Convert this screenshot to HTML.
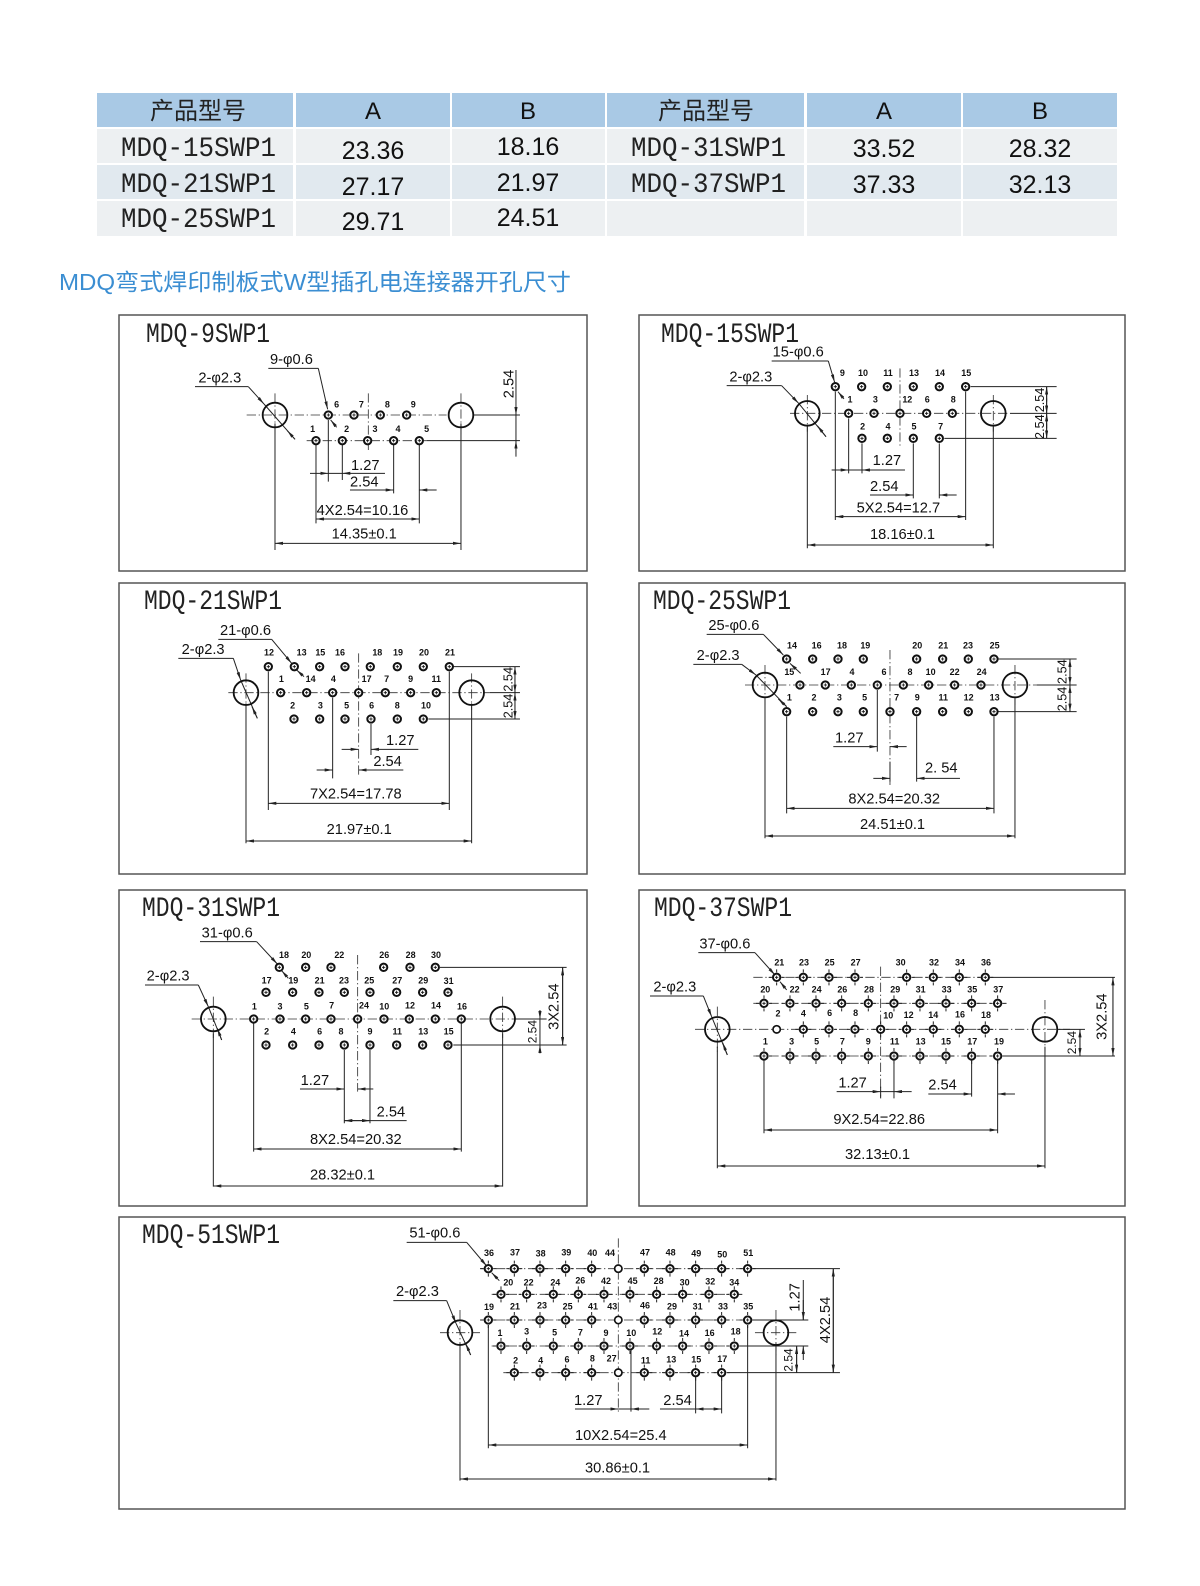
<!DOCTYPE html>
<html><head><meta charset="utf-8"><style>
html,body{margin:0;padding:0;background:#fff}
svg{display:block}
.s{stroke:#222;stroke-width:3;fill:none}
.dd{stroke:#333;stroke-width:2.5;stroke-dasharray:28 8 4 8;fill:none}
.h{fill:none;stroke:#111;stroke-width:5.5}
.t{font-family:"Liberation Sans",sans-serif;font-size:44px;fill:#111}
.n{font-family:"Liberation Sans",sans-serif;font-weight:bold;font-size:27px;fill:#111;text-anchor:middle}
.m{font-family:"Liberation Mono",monospace;font-size:28px;fill:#222}
.v{font-family:"Liberation Sans",sans-serif;font-size:24px;fill:#111;text-anchor:middle}
.cj{font-family:"Liberation Sans","Noto Sans CJK SC",sans-serif;font-size:24px;fill:#222;text-anchor:middle}
</style></head><body>
<svg width="1200" height="1586" viewBox="0 0 1200 1586" xmlns="http://www.w3.org/2000/svg">
<defs>
<marker id="a" viewBox="0 0 10 4" refX="10" refY="2" markerWidth="8" markerHeight="3.2" orient="auto-start-reverse" markerUnits="strokeWidth"><path d="M0 0L10 2L0 4z" fill="#222"/></marker>
<g id="p"><circle r="11" fill="#fff" stroke="#111" stroke-width="6"/><path d="M-5 0h10M0-5v10" stroke="#111" stroke-width="2.5"/></g>
<g id="q"><path d="M-24 0h9M15 0h9M0-24v9M0 15v9" stroke="#222" stroke-width="3"/><circle r="11" fill="#fff" stroke="#111" stroke-width="6"/><path d="M-5 0h10M0-5v10" stroke="#111" stroke-width="2.5"/></g>
<g id="o"><circle r="11" fill="#fff" stroke="#111" stroke-width="5"/></g>
</defs>

<!-- TABLE -->
<rect x="97" y="93" width="1020" height="143" fill="#fff"/>
<g fill="#a9c9e5"><rect x="97" y="93" width="196" height="34"/><rect x="296" y="93" width="154" height="34"/><rect x="452" y="93" width="153" height="34"/><rect x="607" y="93" width="197" height="34"/><rect x="807" y="93" width="154" height="34"/><rect x="963" y="93" width="154" height="34"/></g>
<g fill="#edf0f2"><rect x="97" y="129" width="196" height="34"/><rect x="296" y="129" width="154" height="34"/><rect x="452" y="129" width="153" height="34"/><rect x="607" y="129" width="197" height="34"/><rect x="807" y="129" width="154" height="34"/><rect x="963" y="129" width="154" height="34"/></g>
<g fill="#e1e9ef"><rect x="97" y="165" width="196" height="34"/><rect x="296" y="165" width="154" height="34"/><rect x="452" y="165" width="153" height="34"/><rect x="607" y="165" width="197" height="34"/><rect x="807" y="165" width="154" height="34"/><rect x="963" y="165" width="154" height="34"/></g>
<g fill="#edf0f2"><rect x="97" y="201" width="196" height="35"/><rect x="296" y="201" width="154" height="35"/><rect x="452" y="201" width="153" height="35"/><rect x="607" y="201" width="197" height="35"/><rect x="807" y="201" width="154" height="35"/><rect x="963" y="201" width="154" height="35"/></g>
<text class="cj" x="198" y="119">产品型号</text><text class="v" x="373" y="119">A</text><text class="v" x="528" y="119">B</text>
<text class="cj" x="706" y="119">产品型号</text><text class="v" x="884" y="119">A</text><text class="v" x="1040" y="119">B</text>
<text class="m" x="121" y="156" textLength="155" lengthAdjust="spacingAndGlyphs">MDQ-15SWP1</text>
<text class="m" x="121" y="192" textLength="155" lengthAdjust="spacingAndGlyphs">MDQ-21SWP1</text>
<text class="m" x="121" y="227" textLength="155" lengthAdjust="spacingAndGlyphs">MDQ-25SWP1</text>
<text class="m" x="631" y="156" textLength="155" lengthAdjust="spacingAndGlyphs">MDQ-31SWP1</text>
<text class="m" x="631" y="192" textLength="155" lengthAdjust="spacingAndGlyphs">MDQ-37SWP1</text>
<g class="v" style="font-size:25px"><text x="373" y="159">23.36</text><text x="528" y="155">18.16</text><text x="373" y="195">27.17</text><text x="528" y="191">21.97</text><text x="373" y="230">29.71</text><text x="528" y="226">24.51</text>
<text x="884" y="157">33.52</text><text x="1040" y="157">28.32</text><text x="884" y="193">37.33</text><text x="1040" y="193">32.13</text></g>

<text x="59" y="290" style="font-family:'Liberation Sans','Noto Sans CJK SC',sans-serif;font-size:23px;fill:#3b8ed2" textLength="512" lengthAdjust="spacingAndGlyphs">MDQ弯式焊印制板式W型插孔电连接器开孔尺寸</text>

<!-- FRAMES -->
<g fill="none" stroke="#555" stroke-width="1.5">
<rect x="119" y="315" width="468" height="256"/><rect x="639" y="315" width="486" height="256"/>
<rect x="119" y="583" width="468" height="291"/><rect x="639" y="583" width="486" height="291"/>
<rect x="119" y="890" width="468" height="316"/><rect x="639" y="890" width="486" height="316"/>
<rect x="119" y="1217" width="1006" height="292"/></g>
<g class="m">
<text x="146" y="342" textLength="124" lengthAdjust="spacingAndGlyphs">MDQ-9SWP1</text>
<text x="661" y="342" textLength="138" lengthAdjust="spacingAndGlyphs">MDQ-15SWP1</text>
<text x="144" y="609" textLength="138" lengthAdjust="spacingAndGlyphs">MDQ-21SWP1</text>
<text x="653" y="609" textLength="138" lengthAdjust="spacingAndGlyphs">MDQ-25SWP1</text>
<text x="142" y="916" textLength="138" lengthAdjust="spacingAndGlyphs">MDQ-31SWP1</text>
<text x="654" y="916" textLength="138" lengthAdjust="spacingAndGlyphs">MDQ-37SWP1</text>
<text x="142" y="1243" textLength="138" lengthAdjust="spacingAndGlyphs">MDQ-51SWP1</text>
</g>

<!-- PANEL 1 -->
<g transform="translate(180 340) scale(0.3333)">
<path class="dd" d="M200 225H800M565 160V330M285 160V290M843 160V290M380 302H740"/>
<path class="s" d="M880 225H1020M740 302H1020M408 315V550M487 315V420M445 240V425M641 315V460M718 315V550M285 250V630M843 250V630M445 400H487M1008 225V302M265 85H415M45 140H205M252 192L345 298"/>
<g class="s">
<line x1="390" y1="400" x2="445" y2="400" marker-end="url(#a)"/><line x1="615" y1="400" x2="487" y2="400" marker-end="url(#a)"/>
<line x1="510" y1="450" x2="641" y2="450" marker-end="url(#a)"/><line x1="770" y1="450" x2="718" y2="450" marker-end="url(#a)"/>
<line x1="408" y1="537" x2="718" y2="537" marker-start="url(#a)" marker-end="url(#a)"/>
<line x1="285" y1="610" x2="843" y2="610" marker-start="url(#a)" marker-end="url(#a)"/>
<line x1="1008" y1="90" x2="1008" y2="225" marker-end="url(#a)"/><line x1="1008" y1="350" x2="1008" y2="302" marker-end="url(#a)"/>
<line x1="415" y1="85" x2="443" y2="208" marker-end="url(#a)"/><line x1="470" y1="262" x2="452" y2="240" marker-end="url(#a)"/>
<line x1="205" y1="140" x2="252" y2="192" marker-end="url(#a)"/><line x1="345" y1="298" x2="322" y2="272" marker-end="url(#a)"/>
</g>
<circle class="h" cx="285" cy="225" r="37"/><circle class="h" cx="843" cy="225" r="37"/>
<use href="#p" x="445" y="225"/><use href="#p" x="522" y="225"/><use href="#p" x="601" y="225"/><use href="#p" x="680" y="225"/>
<use href="#p" x="408" y="302"/><use href="#p" x="487" y="302"/><use href="#p" x="563" y="302"/><use href="#p" x="641" y="302"/><use href="#p" x="718" y="302"/>
<g class="n"><text x="470" y="203">6</text><text x="544" y="203">7</text><text x="622" y="203">8</text><text x="700" y="203">9</text>
<text x="398" y="276">1</text><text x="500" y="276">2</text><text x="585" y="276">3</text><text x="654" y="276">4</text><text x="740" y="276">5</text></g>
<g class="t"><text x="270" y="72">9-φ0.6</text><text x="55" y="128">2-φ2.3</text><text x="513" y="390">1.27</text><text x="510" y="440">2.54</text><text x="410" y="525">4X2.54=10.16</text><text x="455" y="595">14.35±0.1</text>
<text transform="translate(1000 132) rotate(-90)" text-anchor="middle">2.54</text></g>
</g>

<!-- PANEL 2 -->
<g transform="translate(700 335) scale(0.3333)">
<path class="dd" d="M270 235H930M600 100V340M322 180V290M880 180V290"/>
<path class="s" d="M930 235H1070M812 155H1070M733 310H1070M406 170V555M446 250V415M486 325V415M640 325V490M718 325V490M797 170V555M322 270V640M880 270V640M446 405H486M1040 155V310M215 78H385M80 152H245"/>
<g class="s">
<line x1="395" y1="405" x2="446" y2="405" marker-end="url(#a)"/><line x1="615" y1="405" x2="486" y2="405" marker-end="url(#a)"/>
<line x1="510" y1="480" x2="640" y2="480" marker-end="url(#a)"/><line x1="770" y1="480" x2="718" y2="480" marker-end="url(#a)"/>
<line x1="406" y1="545" x2="797" y2="545" marker-start="url(#a)" marker-end="url(#a)"/>
<line x1="322" y1="630" x2="880" y2="630" marker-start="url(#a)" marker-end="url(#a)"/>
<line x1="1040" y1="200" x2="1040" y2="155" marker-end="url(#a)"/><line x1="1040" y1="190" x2="1040" y2="235" marker-end="url(#a)"/>
<line x1="1040" y1="280" x2="1040" y2="235" marker-end="url(#a)"/><line x1="1040" y1="265" x2="1040" y2="310" marker-end="url(#a)"/>
<line x1="385" y1="78" x2="404" y2="142" marker-end="url(#a)"/><line x1="432" y1="192" x2="414" y2="170" marker-end="url(#a)"/>
<line x1="245" y1="152" x2="296" y2="205" marker-end="url(#a)"/><line x1="296" y1="205" x2="378" y2="305"/><line x1="378" y1="305" x2="352" y2="272" marker-end="url(#a)"/>
</g>
<circle class="h" cx="322" cy="235" r="37"/><circle class="h" cx="880" cy="235" r="37"/>
<use href="#p" x="406" y="155"/><use href="#p" x="485" y="155"/><use href="#p" x="562" y="155"/><use href="#p" x="640" y="155"/><use href="#p" x="718" y="155"/><use href="#p" x="797" y="155"/>
<use href="#p" x="446" y="235"/><use href="#p" x="522" y="235"/><use href="#p" x="600" y="235"/><use href="#p" x="680" y="235"/><use href="#p" x="757" y="235"/>
<use href="#p" x="486" y="310"/><use href="#p" x="562" y="310"/><use href="#p" x="640" y="310"/><use href="#p" x="718" y="310"/>
<g class="n"><text x="427" y="123">9</text><text x="489" y="123">10</text><text x="564" y="123">11</text><text x="642" y="123">13</text><text x="720" y="123">14</text><text x="799" y="123">15</text>
<text x="450" y="203">1</text><text x="526" y="203">3</text><text x="622" y="203">12</text><text x="682" y="203">6</text><text x="760" y="203">8</text>
<text x="488" y="283">2</text><text x="564" y="283">4</text><text x="642" y="283">5</text><text x="722" y="283">7</text></g>
<g class="t"><text x="218" y="64">15-φ0.6</text><text x="88" y="140">2-φ2.3</text><text x="518" y="390">1.27</text><text x="510" y="468">2.54</text><text x="470" y="532">5X2.54=12.7</text><text x="510" y="612">18.16±0.1</text>
<text transform="translate(1032 195) rotate(-90)" text-anchor="middle" style="font-size:38px">2.54</text><text transform="translate(1032 275) rotate(-90)" text-anchor="middle" style="font-size:38px">2.54</text></g>
</g>

<!-- PANEL 3 -->
<g transform="translate(170 610) scale(0.3333)">
<path class="dd" d="M175 248H960M566 130V500M228 190V300M905 190V300"/>
<path class="s" d="M960 248H1050M850 170H1050M775 327H1050M295 185V600M838 185V600M488 263V505M603 342V435M228 280V700M905 280V700M1035 170V327M145 88H305M25 145H190"/>
<g class="s">
<line x1="515" y1="418" x2="566" y2="418" marker-end="url(#a)"/><line x1="745" y1="418" x2="603" y2="418" marker-end="url(#a)"/>
<line x1="440" y1="480" x2="488" y2="480" marker-end="url(#a)"/><line x1="700" y1="480" x2="566" y2="480" marker-end="url(#a)"/>
<line x1="295" y1="580" x2="838" y2="580" marker-start="url(#a)" marker-end="url(#a)"/>
<line x1="228" y1="693" x2="905" y2="693" marker-start="url(#a)" marker-end="url(#a)"/>
<line x1="1035" y1="215" x2="1035" y2="170" marker-end="url(#a)"/><line x1="1035" y1="205" x2="1035" y2="248" marker-end="url(#a)"/>
<line x1="1035" y1="290" x2="1035" y2="248" marker-end="url(#a)"/><line x1="1035" y1="285" x2="1035" y2="327" marker-end="url(#a)"/>
<line x1="305" y1="88" x2="365" y2="160" marker-end="url(#a)"/><line x1="402" y1="200" x2="380" y2="180" marker-end="url(#a)"/>
<line x1="190" y1="145" x2="212" y2="210" marker-end="url(#a)"/><line x1="212" y1="210" x2="262" y2="325"/><line x1="262" y1="325" x2="246" y2="290" marker-end="url(#a)"/>
</g>
<circle class="h" cx="228" cy="248" r="37"/><circle class="h" cx="905" cy="248" r="37"/>
<use href="#p" x="295" y="170"/><use href="#p" x="373" y="170"/><use href="#p" x="449" y="170"/><use href="#p" x="525" y="170"/><use href="#p" x="601" y="170"/><use href="#p" x="682" y="170"/><use href="#p" x="760" y="170"/><use href="#p" x="838" y="170"/>
<use href="#p" x="332" y="248"/><use href="#p" x="410" y="248"/><use href="#p" x="488" y="248"/><use href="#p" x="566" y="248"/><use href="#p" x="646" y="248"/><use href="#p" x="722" y="248"/><use href="#p" x="799" y="248"/>
<use href="#p" x="372" y="327"/><use href="#p" x="449" y="327"/><use href="#p" x="525" y="327"/><use href="#p" x="603" y="327"/><use href="#p" x="682" y="327"/><use href="#p" x="760" y="327"/>
<g class="n"><text x="297" y="136">12</text><text x="395" y="136">13</text><text x="451" y="136">15</text><text x="510" y="136">16</text><text x="622" y="136">18</text><text x="684" y="136">19</text><text x="762" y="136">20</text><text x="840" y="136">21</text>
<text x="334" y="216">1</text><text x="422" y="216">14</text><text x="490" y="216">4</text><text x="590" y="216">17</text><text x="650" y="216">7</text><text x="722" y="216">9</text><text x="799" y="216">11</text>
<text x="368" y="295">2</text><text x="451" y="295">3</text><text x="530" y="295">5</text><text x="605" y="295">6</text><text x="682" y="295">8</text><text x="768" y="295">10</text></g>
<g class="t"><text x="150" y="75">21-φ0.6</text><text x="35" y="132">2-φ2.3</text><text x="648" y="405">1.27</text><text x="610" y="468">2.54</text><text x="420" y="565">7X2.54=17.78</text><text x="470" y="672">21.97±0.1</text>
<text transform="translate(1027 208) rotate(-90)" text-anchor="middle" style="font-size:38px">2.54</text><text transform="translate(1027 288) rotate(-90)" text-anchor="middle" style="font-size:38px">2.54</text></g>
</g>

<!-- PANEL 4 -->
<g transform="translate(680 605) scale(0.3333)">
<path class="dd" d="M195 240H1070M630 135V540M255 180V300M1005 180V300"/>
<path class="s" d="M1070 240H1190M955 162H1190M955 320H1190M320 335V625M942 335V625M592 255V440M630 470V530M710 335V530M255 280V700M1005 280V700M1170 162V320M80 88H250M40 178H185"/>
<g class="s">
<line x1="460" y1="425" x2="592" y2="425" marker-end="url(#a)"/><line x1="680" y1="425" x2="630" y2="425" marker-end="url(#a)"/>
<line x1="580" y1="520" x2="630" y2="520" marker-end="url(#a)"/><line x1="840" y1="520" x2="710" y2="520" marker-end="url(#a)"/>
<line x1="320" y1="610" x2="942" y2="610" marker-start="url(#a)" marker-end="url(#a)"/>
<line x1="255" y1="693" x2="1005" y2="693" marker-start="url(#a)" marker-end="url(#a)"/>
<line x1="1170" y1="205" x2="1170" y2="162" marker-end="url(#a)"/><line x1="1170" y1="198" x2="1170" y2="240" marker-end="url(#a)"/>
<line x1="1170" y1="282" x2="1170" y2="240" marker-end="url(#a)"/><line x1="1170" y1="278" x2="1170" y2="320" marker-end="url(#a)"/>
<line x1="250" y1="88" x2="310" y2="150" marker-end="url(#a)"/><line x1="362" y1="205" x2="330" y2="175" marker-end="url(#a)"/>
<line x1="185" y1="178" x2="228" y2="210" marker-end="url(#a)"/><line x1="228" y1="210" x2="320" y2="305"/><line x1="320" y1="305" x2="295" y2="282" marker-end="url(#a)"/>
</g>
<circle class="h" cx="255" cy="240" r="37"/><circle class="h" cx="1005" cy="240" r="37"/>
<use href="#p" x="320" y="162"/><use href="#p" x="398" y="162"/><use href="#p" x="474" y="162"/><use href="#p" x="550" y="162"/><use href="#p" x="710" y="162"/><use href="#p" x="788" y="162"/><use href="#p" x="865" y="162"/><use href="#p" x="942" y="162"/>
<use href="#p" x="360" y="240"/><use href="#p" x="436" y="240"/><use href="#p" x="514" y="240"/><use href="#p" x="592" y="240"/><use href="#p" x="670" y="240"/><use href="#p" x="746" y="240"/><use href="#p" x="824" y="240"/><use href="#p" x="903" y="240"/>
<use href="#p" x="320" y="320"/><use href="#p" x="398" y="320"/><use href="#p" x="474" y="320"/><use href="#p" x="550" y="320"/><use href="#p" x="630" y="320"/><use href="#p" x="710" y="320"/><use href="#p" x="788" y="320"/><use href="#p" x="865" y="320"/><use href="#p" x="942" y="320"/>
<g class="n"><text x="336" y="130">14</text><text x="410" y="130">16</text><text x="486" y="130">18</text><text x="556" y="130">19</text><text x="712" y="130">20</text><text x="790" y="130">21</text><text x="864" y="130">23</text><text x="944" y="130">25</text>
<text x="328" y="210">15</text><text x="437" y="210">17</text><text x="516" y="210">4</text><text x="612" y="210">6</text><text x="690" y="210">8</text><text x="752" y="210">10</text><text x="824" y="210">22</text><text x="905" y="210">24</text>
<text x="328" y="286">1</text><text x="402" y="286">2</text><text x="478" y="286">3</text><text x="554" y="286">5</text><text x="650" y="286">7</text><text x="712" y="286">9</text><text x="790" y="286">11</text><text x="866" y="286">12</text><text x="944" y="286">13</text></g>
<g class="t"><text x="85" y="75">25-φ0.6</text><text x="50" y="165">2-φ2.3</text><text x="465" y="412">1.27</text><text x="735" y="503">2. 54</text><text x="505" y="595">8X2.54=20.32</text><text x="540" y="672">24.51±0.1</text>
<text transform="translate(1160 200) rotate(-90)" text-anchor="middle" style="font-size:38px">2.54</text><text transform="translate(1160 282) rotate(-90)" text-anchor="middle" style="font-size:38px">2.54</text></g>
</g>

<!-- PANEL 5 -->
<g transform="translate(140 910) scale(0.3333)">
<path class="dd" d="M155 327H1170M653 135V545M220 260V390M1088 260V390"/>
<path class="s" d="M1125 327H1220M900 172H1280M940 405H1280M341 340V725M964 340V725M613 420V640M690 420V640M220 370V830M1088 370V830M1268 172V405M1200 327V405M613 632H800M180 95H350M15 225H175"/>
<g class="s">
<line x1="480" y1="537" x2="613" y2="537" marker-end="url(#a)"/><line x1="700" y1="537" x2="653" y2="537" marker-end="url(#a)"/>
<line x1="613" y1="632" x2="690" y2="632" marker-start="url(#a)" marker-end="url(#a)"/>
<line x1="341" y1="717" x2="964" y2="717" marker-start="url(#a)" marker-end="url(#a)"/>
<line x1="220" y1="828" x2="1088" y2="828" marker-start="url(#a)" marker-end="url(#a)"/>
<line x1="1268" y1="290" x2="1268" y2="172" marker-end="url(#a)"/><line x1="1268" y1="290" x2="1268" y2="405" marker-end="url(#a)"/>
<line x1="1200" y1="300" x2="1200" y2="327" marker-end="url(#a)"/><line x1="1200" y1="430" x2="1200" y2="405" marker-end="url(#a)"/>
<line x1="350" y1="95" x2="412" y2="162" marker-end="url(#a)"/><line x1="445" y1="205" x2="425" y2="182" marker-end="url(#a)"/>
<line x1="175" y1="225" x2="205" y2="290" marker-end="url(#a)"/><line x1="205" y1="290" x2="245" y2="390"/><line x1="245" y1="390" x2="232" y2="355" marker-end="url(#a)"/>
</g>
<circle class="h" cx="220" cy="327" r="37"/><circle class="h" cx="1088" cy="327" r="37"/>
<use href="#p" x="418" y="172"/><use href="#p" x="497" y="172"/><use href="#p" x="573" y="172"/><use href="#p" x="731" y="172"/><use href="#p" x="810" y="172"/><use href="#p" x="886" y="172"/>
<use href="#p" x="378" y="247"/><use href="#p" x="458" y="247"/><use href="#p" x="537" y="247"/><use href="#p" x="613" y="247"/><use href="#p" x="690" y="247"/><use href="#p" x="770" y="247"/><use href="#p" x="848" y="247"/><use href="#p" x="924" y="247"/>
<use href="#p" x="341" y="327"/><use href="#p" x="420" y="327"/><use href="#p" x="497" y="327"/><use href="#p" x="573" y="327"/><use href="#p" x="653" y="327"/><use href="#p" x="732" y="327"/><use href="#p" x="808" y="327"/><use href="#p" x="886" y="327"/><use href="#p" x="964" y="327"/>
<use href="#p" x="378" y="405"/><use href="#p" x="458" y="405"/><use href="#p" x="537" y="405"/><use href="#p" x="613" y="405"/><use href="#p" x="690" y="405"/><use href="#p" x="770" y="405"/><use href="#p" x="848" y="405"/><use href="#p" x="924" y="405"/>
<g class="n"><text x="432" y="144">18</text><text x="499" y="144">20</text><text x="598" y="144">22</text><text x="733" y="144">26</text><text x="812" y="144">28</text><text x="888" y="144">30</text>
<text x="380" y="220">17</text><text x="460" y="220">19</text><text x="539" y="220">21</text><text x="612" y="220">23</text><text x="688" y="220">25</text><text x="772" y="220">27</text><text x="850" y="220">29</text><text x="926" y="222">31</text>
<text x="343" y="298">1</text><text x="420" y="298">3</text><text x="499" y="298">5</text><text x="575" y="296">7</text><text x="672" y="296">24</text><text x="733" y="298">10</text><text x="810" y="296">12</text><text x="888" y="296">14</text><text x="966" y="298">16</text>
<text x="380" y="373">2</text><text x="460" y="373">4</text><text x="539" y="373">6</text><text x="603" y="373">8</text><text x="690" y="373">9</text><text x="772" y="373">11</text><text x="850" y="373">13</text><text x="926" y="373">15</text></g>
<g class="t"><text x="185" y="82">31-φ0.6</text><text x="20" y="212">2-φ2.3</text><text x="482" y="525">1.27</text><text x="710" y="620">2.54</text><text x="510" y="702">8X2.54=20.32</text><text x="510" y="808">28.32±0.1</text>
<text transform="translate(1255 290) rotate(-90)" text-anchor="middle">3X2.54</text><text transform="translate(1190 365) rotate(-90)" text-anchor="middle" style="font-size:36px">2.54</text></g>
</g>

<!-- PANEL 6 -->
<g transform="translate(640 920) scale(0.3333)">
<path class="dd" d="M165 328H1290M722 140V530M232 260V395M1215 240V395M340 172H1050M340 250H1100M340 408H1100"/>
<path class="s" d="M1050 172H1425M1090 408H1425M1250 328H1335M372 420V640M1073 420V640M722 500V535M762 420V535M995 420V530M232 380V745M1215 380V745M1419 172V408M1320 328V408M722 515H762M175 98H345M30 228H190"/>
<g class="s">
<line x1="590" y1="515" x2="722" y2="515" marker-end="url(#a)"/><line x1="815" y1="515" x2="762" y2="515" marker-end="url(#a)"/>
<line x1="865" y1="522" x2="995" y2="522" marker-end="url(#a)"/><line x1="1125" y1="522" x2="1073" y2="522" marker-end="url(#a)"/>
<line x1="372" y1="630" x2="1073" y2="630" marker-start="url(#a)" marker-end="url(#a)"/>
<line x1="232" y1="738" x2="1215" y2="738" marker-start="url(#a)" marker-end="url(#a)"/>
<line x1="1419" y1="290" x2="1419" y2="172" marker-end="url(#a)"/><line x1="1419" y1="290" x2="1419" y2="408" marker-end="url(#a)"/>
<line x1="1320" y1="368" x2="1320" y2="328" marker-end="url(#a)"/><line x1="1320" y1="368" x2="1320" y2="408" marker-end="url(#a)"/>
<line x1="345" y1="98" x2="405" y2="165" marker-end="url(#a)"/><line x1="440" y1="210" x2="420" y2="185" marker-end="url(#a)"/>
<line x1="190" y1="228" x2="215" y2="290" marker-end="url(#a)"/><line x1="215" y1="290" x2="262" y2="405"/><line x1="262" y1="405" x2="248" y2="368" marker-end="url(#a)"/>
</g>
<circle class="h" cx="232" cy="328" r="37"/><circle class="h" cx="1215" cy="328" r="37"/>
<use href="#q" x="410" y="172"/><use href="#q" x="490" y="172"/><use href="#q" x="567" y="172"/><use href="#q" x="645" y="172"/><use href="#q" x="800" y="172"/><use href="#q" x="880" y="172"/><use href="#q" x="958" y="172"/><use href="#q" x="1036" y="172"/>
<use href="#q" x="372" y="250"/><use href="#q" x="450" y="250"/><use href="#q" x="528" y="250"/><use href="#q" x="605" y="250"/><use href="#q" x="685" y="250"/><use href="#q" x="762" y="250"/><use href="#q" x="840" y="250"/><use href="#q" x="918" y="250"/><use href="#q" x="995" y="250"/><use href="#q" x="1073" y="250"/>
<use href="#o" x="410" y="328"/><use href="#q" x="490" y="328"/><use href="#q" x="567" y="328"/><use href="#q" x="645" y="328"/><use href="#q" x="722" y="328"/><use href="#q" x="800" y="328"/><use href="#q" x="880" y="328"/><use href="#q" x="958" y="328"/><use href="#q" x="1036" y="328"/>
<use href="#q" x="372" y="408"/><use href="#q" x="450" y="408"/><use href="#q" x="528" y="408"/><use href="#q" x="605" y="408"/><use href="#q" x="685" y="408"/><use href="#q" x="762" y="408"/><use href="#q" x="840" y="408"/><use href="#q" x="918" y="408"/><use href="#q" x="995" y="408"/><use href="#q" x="1073" y="408"/>
<g class="n"><text x="418" y="136">21</text><text x="492" y="136">23</text><text x="569" y="136">25</text><text x="647" y="136">27</text><text x="782" y="136">30</text><text x="882" y="136">32</text><text x="960" y="136">34</text><text x="1038" y="136">36</text>
<text x="376" y="218">20</text><text x="464" y="218">22</text><text x="530" y="218">24</text><text x="607" y="218">26</text><text x="687" y="218">28</text><text x="766" y="218">29</text><text x="842" y="218">31</text><text x="920" y="218">33</text><text x="997" y="218">35</text><text x="1075" y="218">37</text>
<text x="414" y="290">2</text><text x="490" y="290">4</text><text x="569" y="288">6</text><text x="647" y="288">8</text><text x="745" y="296">10</text><text x="806" y="294">12</text><text x="880" y="294">14</text><text x="960" y="292">16</text><text x="1038" y="294">18</text>
<text x="376" y="374">1</text><text x="455" y="374">3</text><text x="530" y="374">5</text><text x="607" y="374">7</text><text x="685" y="374">9</text><text x="764" y="374">11</text><text x="842" y="374">13</text><text x="918" y="374">15</text><text x="997" y="374">17</text><text x="1077" y="374">19</text></g>
<g class="t"><text x="178" y="85">37-φ0.6</text><text x="40" y="215">2-φ2.3</text><text x="595" y="503">1.27</text><text x="865" y="508">2.54</text><text x="580" y="612">9X2.54=22.86</text><text x="615" y="717">32.13±0.1</text>
<text transform="translate(1400 290) rotate(-90)" text-anchor="middle">3X2.54</text><text transform="translate(1308 368) rotate(-90)" text-anchor="middle" style="font-size:36px">2.54</text></g>
</g>

<!-- PANEL 7 -->
<g transform="translate(400 1210) scale(0.3333)">
<path class="dd" d="M120 368H240M1065 368H1190M655 85V610M180 300V440M1128 300V440M240 176H1060M275 253H1020M240 330H1060M275 408H1020M310 488H985"/>
<path class="s" d="M1060 176H1320M1060 330H1225M1020 408H1225M985 488H1320M265 345V715M1043 345V715M693 420V605M887 500V610M965 500V610M655 597H693M780 597H887M180 400V812M1128 400V812M1300 176V488M1210 210V330M1190 408V488M20 97H200M-20 272H140"/>
<g class="s">
<line x1="525" y1="597" x2="655" y2="597" marker-end="url(#a)"/><line x1="748" y1="597" x2="693" y2="597" marker-end="url(#a)"/>
<line x1="887" y1="597" x2="965" y2="597" marker-start="url(#a)" marker-end="url(#a)"/>
<line x1="265" y1="705" x2="1043" y2="705" marker-start="url(#a)" marker-end="url(#a)"/>
<line x1="180" y1="807" x2="1128" y2="807" marker-start="url(#a)" marker-end="url(#a)"/>
<line x1="1300" y1="330" x2="1300" y2="176" marker-end="url(#a)"/><line x1="1300" y1="330" x2="1300" y2="488" marker-end="url(#a)"/>
<line x1="1210" y1="270" x2="1210" y2="330" marker-end="url(#a)"/><line x1="1210" y1="450" x2="1210" y2="408" marker-end="url(#a)"/>
<line x1="1190" y1="450" x2="1190" y2="408" marker-end="url(#a)"/><line x1="1190" y1="450" x2="1190" y2="488" marker-end="url(#a)"/>
<line x1="200" y1="97" x2="260" y2="168" marker-end="url(#a)"/><line x1="298" y1="212" x2="275" y2="188" marker-end="url(#a)"/>
<line x1="140" y1="272" x2="168" y2="340" marker-end="url(#a)"/><line x1="168" y1="340" x2="212" y2="435"/><line x1="212" y1="435" x2="197" y2="400" marker-end="url(#a)"/>
</g>
<circle class="h" cx="180" cy="368" r="37"/><circle class="h" cx="1128" cy="368" r="37"/>
<use href="#q" x="265" y="176"/><use href="#q" x="343" y="176"/><use href="#q" x="420" y="176"/><use href="#q" x="497" y="176"/><use href="#q" x="575" y="176"/><use href="#o" x="655" y="176"/><use href="#q" x="733" y="176"/><use href="#q" x="810" y="176"/><use href="#q" x="887" y="176"/><use href="#q" x="965" y="176"/><use href="#q" x="1043" y="176"/>
<use href="#q" x="303" y="253"/><use href="#q" x="380" y="253"/><use href="#q" x="460" y="253"/><use href="#q" x="535" y="253"/><use href="#q" x="612" y="253"/><use href="#q" x="690" y="253"/><use href="#q" x="770" y="253"/><use href="#q" x="848" y="253"/><use href="#q" x="927" y="253"/><use href="#q" x="1003" y="253"/>
<use href="#q" x="265" y="330"/><use href="#q" x="343" y="330"/><use href="#q" x="420" y="330"/><use href="#q" x="497" y="330"/><use href="#q" x="575" y="330"/><use href="#o" x="655" y="330"/><use href="#q" x="733" y="330"/><use href="#q" x="810" y="330"/><use href="#q" x="887" y="330"/><use href="#q" x="965" y="330"/><use href="#q" x="1043" y="330"/>
<use href="#q" x="303" y="408"/><use href="#q" x="380" y="408"/><use href="#q" x="460" y="408"/><use href="#q" x="535" y="408"/><use href="#q" x="612" y="408"/><use href="#q" x="690" y="408"/><use href="#q" x="770" y="408"/><use href="#q" x="848" y="408"/><use href="#q" x="927" y="408"/><use href="#q" x="1003" y="408"/>
<use href="#q" x="343" y="488"/><use href="#q" x="420" y="488"/><use href="#q" x="497" y="488"/><use href="#q" x="575" y="488"/><use href="#o" x="655" y="488"/><use href="#q" x="733" y="488"/><use href="#q" x="810" y="488"/><use href="#q" x="887" y="488"/><use href="#q" x="965" y="488"/>
<g class="n"><text x="267" y="138">36</text><text x="345" y="136">37</text><text x="422" y="140">38</text><text x="499" y="136">39</text><text x="577" y="138">40</text><text x="630" y="138">44</text><text x="735" y="136">47</text><text x="812" y="136">48</text><text x="889" y="140">49</text><text x="967" y="142">50</text><text x="1045" y="138">51</text>
<text x="325" y="226">20</text><text x="386" y="226">22</text><text x="466" y="226">24</text><text x="541" y="220">26</text><text x="618" y="222">42</text><text x="698" y="222">45</text><text x="776" y="222">28</text><text x="854" y="226">30</text><text x="931" y="224">32</text><text x="1003" y="226">34</text>
<text x="267" y="300">19</text><text x="345" y="298">21</text><text x="426" y="296">23</text><text x="503" y="298">25</text><text x="579" y="298">41</text><text x="637" y="298">43</text><text x="735" y="296">46</text><text x="816" y="298">29</text><text x="893" y="298">31</text><text x="969" y="298">33</text><text x="1045" y="298">35</text>
<text x="300" y="378">1</text><text x="380" y="374">3</text><text x="464" y="376">5</text><text x="541" y="376">7</text><text x="618" y="378">9</text><text x="694" y="378">10</text><text x="772" y="374">12</text><text x="852" y="380">14</text><text x="929" y="378">16</text><text x="1007" y="374">18</text>
<text x="347" y="460">2</text><text x="422" y="460">4</text><text x="501" y="458">6</text><text x="577" y="454">8</text><text x="635" y="454">27</text><text x="737" y="460">11</text><text x="814" y="458">13</text><text x="889" y="458">15</text><text x="967" y="456">17</text></g>
<g class="t"><text x="28" y="82">51-φ0.6</text><text x="-12" y="258">2-φ2.3</text><text x="522" y="585">1.27</text><text x="790" y="585">2.54</text><text x="525" y="690">10X2.54=25.4</text><text x="555" y="788">30.86±0.1</text>
<text transform="translate(1290 330) rotate(-90)" text-anchor="middle">4X2.54</text><text transform="translate(1198 262) rotate(-90)" text-anchor="middle">1.27</text><text transform="translate(1178 450) rotate(-90)" text-anchor="middle" style="font-size:36px">2.54</text></g>
</g>
</svg>
</body></html>
